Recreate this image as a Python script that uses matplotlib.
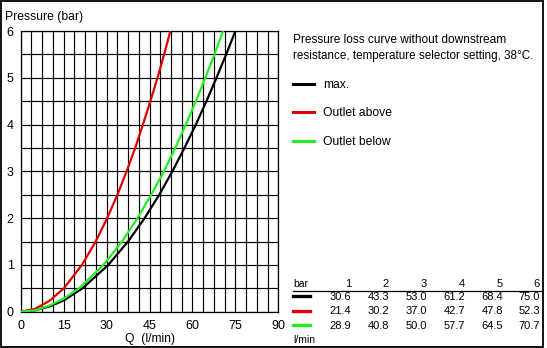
import matplotlib
matplotlib.use("Agg")
import matplotlib.pyplot as plt
from matplotlib.patches import Rectangle
from matplotlib.lines import Line2D
import numpy as np

plt.rcParams['font.family'] = ['Liberation Sans', 'DejaVu Sans']

# ---- data ----
q_max = [0, 5, 10, 15, 21.6, 30.6, 37.5, 43.3, 48.4, 53.0, 57.2, 61.2, 64.9, 68.4, 71.8, 75.0]
p_max = [0, 0.03, 0.11, 0.24, 0.5, 1, 1.5, 2, 2.5, 3, 3.5, 4, 4.5, 5, 5.5, 6]

q_above = [0, 5, 10, 15.1, 21.4, 26.2, 30.2, 33.8, 37.0, 40.0, 42.7, 45.3, 47.8, 50.1, 52.3]
p_above = [0, 0.06, 0.23, 0.5, 1, 1.5, 2, 2.5, 3, 3.5, 4, 4.5, 5, 5.5, 6]

q_below = [0, 5, 10, 15, 20.4, 28.9, 35.4, 40.8, 45.6, 50.0, 54.0, 57.7, 61.2, 64.5, 67.7, 70.7]
p_below = [0, 0.03, 0.13, 0.28, 0.5, 1, 1.5, 2, 2.5, 3, 3.5, 4, 4.5, 5, 5.5, 6]

series_names = ["max.", "Outlet above", "Outlet below"]
series_colors = ["#000000", "#e00000", "#22ee22"]

table_bar = ["1", "2", "3", "4", "5", "6"]
table_max = ["30.6", "43.3", "53.0", "61.2", "68.4", "75.0"]
table_above = ["21.4", "30.2", "37.0", "42.7", "47.8", "52.3"]
table_below = ["28.9", "40.8", "50.0", "57.7", "64.5", "70.7"]

x_ticks = [0, 15, 30, 45, 60, 75, 90]
y_ticks = [0, 1, 2, 3, 4, 5, 6]
x_grid_step = 3.75
y_grid_step = 0.5

W, H = 547, 348
fig = plt.figure(figsize=(W / 100, H / 100), dpi=100)
fig.patch.set_facecolor("white")

def fx(x):
    return x / W

def fy(y):
    return 1 - y / H

# axes placement
L, R, T, B = 20.7, 278.3, 31.0, 311.7
ax = fig.add_axes([fx(L), fy(B), fx(R - L), (B - T) / H])
ax.set_xlim(0, 90)
ax.set_ylim(0, 6)
ax.set_xticks(x_ticks)
ax.set_yticks(y_ticks)
ax.set_xticks(np.arange(0, 90.01, x_grid_step), minor=True)
ax.set_yticks(np.arange(0, 6.01, y_grid_step), minor=True)
ax.grid(which="both", color="black", linewidth=0.85)
ax.tick_params(which="both", length=0)
ax.tick_params(axis="x", pad=6, labelsize=9)
ax.tick_params(axis="y", pad=5, labelsize=9)
for s in ax.spines.values():
    s.set_linewidth(0.9)
ax.set_axisbelow(True)

for q, p, c in zip([q_max, q_above, q_below], [p_max, p_above, p_below], series_colors):
    ax.plot(q, p, color=c, linewidth=1.6, solid_capstyle="butt", clip_on=True, zorder=3)

fig.text(fx(5), fy(17), "Pressure (bar)", fontsize=8.7, ha="left", va="center")
fig.text(fx(150), fy(339), "Q  (l/min)", fontsize=8.7, ha="center", va="center")

# right-hand description and legend
fig.text(fx(293), fy(40), "Pressure loss curve without downstream", fontsize=8.6, ha="left", va="center")
fig.text(fx(293), fy(56.5), "resistance, temperature selector setting, 38°C.", fontsize=8.4, ha="left", va="center")

legend_y = [84, 112, 141]
for name, col, yy in zip(series_names, series_colors, legend_y):
    fig.add_artist(Line2D([fx(293), fx(314)], [fy(yy), fy(yy)], color=col, linewidth=2.2,
                          transform=fig.transFigure))
    fig.text(fx(323), fy(yy + 1), name, fontsize=8.7, ha="left", va="center")

# table
col_x = [351, 389, 427, 465, 503, 540]
fig.text(fx(293), fy(284), "bar", fontsize=7.5, ha="left", va="center")
for lab, cx in zip(table_bar, col_x):
    fig.text(fx(cx), fy(284), lab, fontsize=8, ha="right", va="center")
fig.add_artist(Line2D([fx(293), fx(542)], [fy(290.5), fy(290.5)], color="black", linewidth=0.9,
                      transform=fig.transFigure))
row_y = [297, 311.5, 326]
for vals, col, ry in zip([table_max, table_above, table_below], series_colors, row_y):
    fig.add_artist(Line2D([fx(293), fx(310)], [fy(ry - 1), fy(ry - 1)], color=col, linewidth=2.4,
                          transform=fig.transFigure))
    for v, cx in zip(vals, col_x):
        fig.text(fx(cx), fy(ry), v, fontsize=8, ha="right", va="center")
fig.text(fx(293), fy(340), "l/min", fontsize=7.5, ha="left", va="center")

# outer border
fig.add_artist(Rectangle((fx(0.7), fy(346.5)), fx(543.3 - 0.7), (346.5 - 0.7) / H,
                         fill=False, edgecolor="black", linewidth=1.3, transform=fig.transFigure))

fig.savefig("out.png", dpi=100, facecolor="white")
